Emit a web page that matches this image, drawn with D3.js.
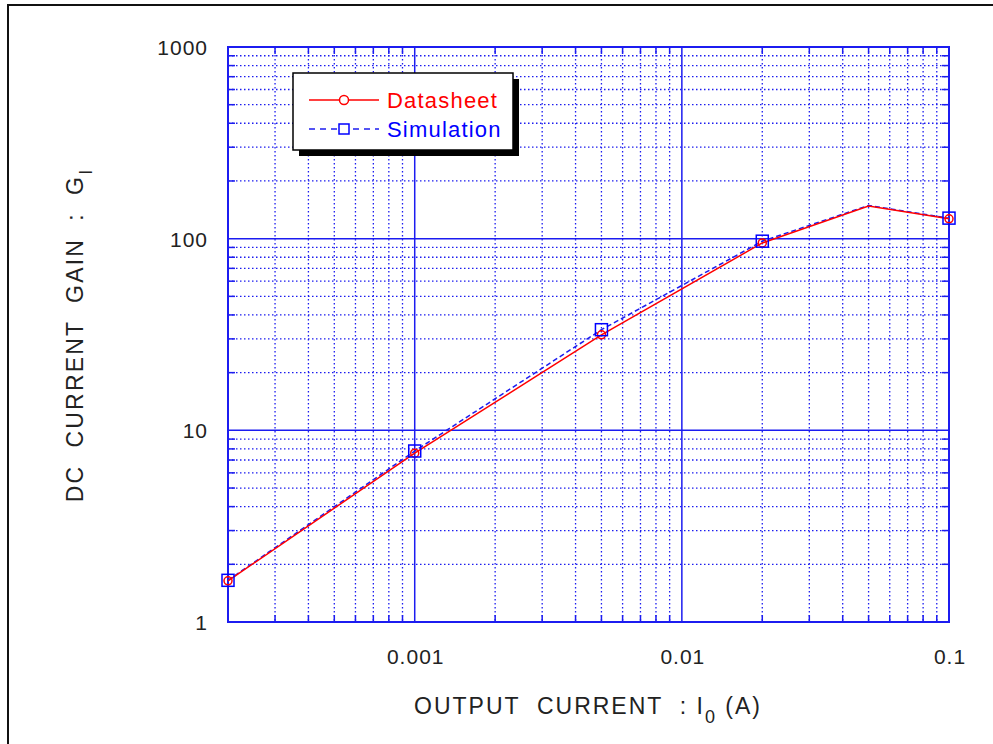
<!DOCTYPE html>
<html>
<head>
<meta charset="utf-8">
<script src="https://cdnjs.cloudflare.com/ajax/libs/d3/7.8.5/d3.min.js"></script>
<style>
  body { margin: 0; background: #fff; }
  svg text { font-family: "Liberation Sans", Arial, sans-serif; }
</style>
</head>
<body>
<script>
// data
var currents = [0.0002, 0.001, 0.005, 0.02, 0.05, 0.1];
var datasheet = [1.64, 7.6, 31.5, 95, 148, 127];
var simulation = [1.65, 7.8, 33.5, 97, 149, 128];
var markerIndex = [0, 1, 2, 3, 5];   // no marker at 0.05
var xTickValues = [0.001, 0.01, 0.1];
var xTickLabels = ["0.001", "0.01", "0.1"];
var yTickValues = [1, 10, 100, 1000];
var yTickLabels = ["1", "10", "100", "1000"];

var W = 993, H = 744;
var blue = "#1c1cf0", red = "#ff0000";

var svg = d3.select("body").append("svg")
    .attr("width", W).attr("height", H);

// outer frame (top and left edges only)
svg.append("path")
    .attr("d", "M 8,744 L 8,5 L 993,5")
    .attr("fill", "none").attr("stroke", "#111").attr("stroke-width", 2);

var x = d3.scaleLog().domain([0.0002, 0.1]).range([228, 949]);
var y = d3.scaleLog().domain([1, 1000]).range([622, 47]);

var plot = svg.append("g").attr("class", "plot");

// minor grid
var xMinor = x.ticks().filter(function (v) { return xTickValues.indexOf(v) < 0 && v > 0.0002 && v < 0.1; });
var yMinor = y.ticks().filter(function (v) { return yTickValues.indexOf(v) < 0; });

plot.append("g").selectAll("line").data(xMinor).join("line")
    .attr("x1", function (d) { return x(d); }).attr("x2", function (d) { return x(d); })
    .attr("y1", y(1000)).attr("y2", y(1))
    .attr("stroke", blue).attr("stroke-width", 1.3).attr("stroke-dasharray", "1.5,2.5");
plot.append("g").selectAll("line").data(yMinor).join("line")
    .attr("y1", function (d) { return y(d); }).attr("y2", function (d) { return y(d); })
    .attr("x1", x(0.0002)).attr("x2", x(0.1))
    .attr("stroke", blue).attr("stroke-width", 1.3).attr("stroke-dasharray", "1.5,2.5");

// major grid
plot.append("g").selectAll("line").data([0.001, 0.01]).join("line")
    .attr("x1", function (d) { return x(d); }).attr("x2", function (d) { return x(d); })
    .attr("y1", y(1000)).attr("y2", y(1))
    .attr("stroke", blue).attr("stroke-width", 1.5);
plot.append("g").selectAll("line").data([10, 100]).join("line")
    .attr("y1", function (d) { return y(d); }).attr("y2", function (d) { return y(d); })
    .attr("x1", x(0.0002)).attr("x2", x(0.1))
    .attr("stroke", blue).attr("stroke-width", 1.5);

// minor tick marks on all four sides
var tk = 7;
var tickG = plot.append("g").attr("stroke", blue).attr("stroke-width", 1.5);
xMinor.forEach(function (v) {
  tickG.append("line").attr("x1", x(v)).attr("x2", x(v)).attr("y1", y(1)).attr("y2", y(1) - tk);
  tickG.append("line").attr("x1", x(v)).attr("x2", x(v)).attr("y1", y(1000)).attr("y2", y(1000) + tk);
});
yMinor.forEach(function (v) {
  tickG.append("line").attr("y1", y(v)).attr("y2", y(v)).attr("x1", x(0.0002)).attr("x2", x(0.0002) + tk);
  tickG.append("line").attr("y1", y(v)).attr("y2", y(v)).attr("x1", x(0.1)).attr("x2", x(0.1) - tk);
});

// plot frame
plot.append("rect")
    .attr("x", x(0.0002)).attr("y", y(1000))
    .attr("width", x(0.1) - x(0.0002)).attr("height", y(1) - y(1000))
    .attr("fill", "none").attr("stroke", blue).attr("stroke-width", 2);

// tick labels
svg.append("g").selectAll("text").data(xTickValues).join("text")
    .attr("x", function (d) { return x(d) + 1; }).attr("y", 664)
    .attr("text-anchor", "middle").attr("font-size", 21).attr("letter-spacing", 1).attr("fill", "#222")
    .text(function (d, i) { return xTickLabels[i]; });
svg.append("g").selectAll("text").data(yTickValues).join("text")
    .attr("x", 208).attr("y", function (d) { return y(d) + 8; })
    .attr("text-anchor", "end").attr("font-size", 21).attr("letter-spacing", 1).attr("fill", "#222")
    .text(function (d, i) { return yTickLabels[i]; });

// axis titles
var xt = svg.append("text").attr("x", 588).attr("y", 714)
    .attr("text-anchor", "middle").attr("font-size", 23).attr("letter-spacing", 2).attr("fill", "#222")
    .attr("xml:space", "preserve");
xt.append("tspan").text("OUTPUT  CURRENT  : I");
xt.append("tspan").attr("dy", 9).attr("font-size", 18).text("0");
xt.append("tspan").attr("dy", -9).text(" (A)");

var yt = svg.append("text")
    .attr("transform", "translate(83,335) rotate(-90)")
    .attr("text-anchor", "middle").attr("font-size", 23).attr("letter-spacing", 2.2).attr("fill", "#222")
    .attr("xml:space", "preserve");
yt.append("tspan").text("DC  CURRENT  GAIN  :  G");
yt.append("tspan").attr("dy", 9).attr("font-size", 18).text("I");

// series
var pts = function (vals) { return currents.map(function (c, i) { return [c, vals[i]]; }); };
var line = d3.line().x(function (d) { return x(d[0]); }).y(function (d) { return y(d[1]); });

plot.append("path").datum(pts(simulation)).attr("d", line)
    .attr("fill", "none").attr("stroke", blue).attr("stroke-width", 1.5).attr("stroke-dasharray", "5,3");
plot.append("path").datum(pts(datasheet)).attr("d", line)
    .attr("fill", "none").attr("stroke", red).attr("stroke-width", 1.5);

plot.append("g").selectAll("circle").data(markerIndex).join("circle")
    .attr("cx", function (i) { return x(currents[i]); })
    .attr("cy", function (i) { return y(datasheet[i]); })
    .attr("r", 4).attr("fill", "none").attr("stroke", red).attr("stroke-width", 1.5);
plot.append("g").selectAll("rect").data(markerIndex).join("rect")
    .attr("x", function (i) { return x(currents[i]) - 6; })
    .attr("y", function (i) { return y(simulation[i]) - 6; })
    .attr("width", 12).attr("height", 12)
    .attr("fill", "none").attr("stroke", "#0000ff").attr("stroke-width", 1.5);

// legend
var lg = svg.append("g").attr("transform", "translate(293,73)");
lg.append("rect").attr("x", 6).attr("y", 6).attr("width", 220).attr("height", 77).attr("fill", "#000");
lg.append("rect").attr("x", 0).attr("y", 0).attr("width", 220).attr("height", 77)
    .attr("fill", "#fff").attr("stroke", "#000").attr("stroke-width", 1.5);

lg.append("line").attr("x1", 16).attr("x2", 86).attr("y1", 27).attr("y2", 27)
    .attr("stroke", red).attr("stroke-width", 1.5);
lg.append("circle").attr("cx", 51).attr("cy", 27).attr("r", 4.5)
    .attr("fill", "#fff").attr("stroke", red).attr("stroke-width", 1.5);
lg.append("text").attr("x", 94).attr("y", 35).attr("font-size", 22).attr("letter-spacing", 1.2)
    .attr("fill", red).text("Datasheet");

lg.append("line").attr("x1", 16).attr("x2", 86).attr("y1", 56).attr("y2", 56)
    .attr("stroke", blue).attr("stroke-width", 1.5).attr("stroke-dasharray", "6,5");
lg.append("rect").attr("x", 46).attr("y", 51).attr("width", 10).attr("height", 10)
    .attr("fill", "#fff").attr("stroke", "#0000ff").attr("stroke-width", 1.5);
lg.append("text").attr("x", 94).attr("y", 64).attr("font-size", 22).attr("letter-spacing", 1.2)
    .attr("fill", "#0000ff").text("Simulation");
</script>
</body>
</html>
